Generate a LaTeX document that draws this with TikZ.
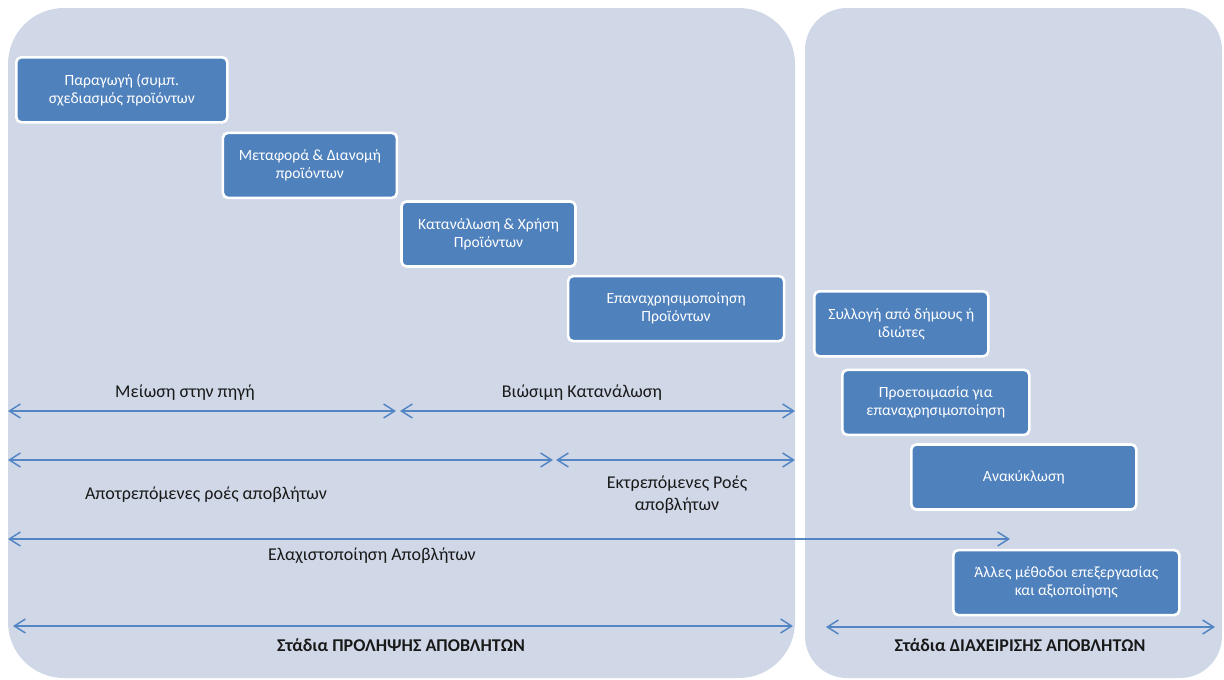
\documentclass[tikz,border=0pt]{standalone}
\usepackage{fontspec}
\setmainfont{Carlito}
\usepackage{xcolor}
\usepackage{tikz}
\usetikzlibrary{arrows.meta,positioning,calc}
\definecolor{panelgray}{RGB}{208,216,232}
\definecolor{boxblue}{RGB}{79,129,189}
\definecolor{spanblue}{RGB}{84,134,196}
\definecolor{darktext}{RGB}{25,25,25}
\newcommand{\boxfont}{\fontsize{15.6}{18}\selectfont}
\newcommand{\lblfont}{\fontsize{18}{22}\selectfont}

\begin{document}
\begin{tikzpicture}[x=1pt, y=-1pt,
    panel/.style={fill=panelgray, draw=none},
    stage/.style={rectangle, draw=white, line width=2.6pt, fill=boxblue, rounded corners=5pt, minimum height=65pt, align=center, text=white, font=\boxfont, inner sep=2pt},
    span/.style={{Straight Barb[length=11pt,width=14pt]}-{Straight Barb[length=11pt,width=14pt]}, line width=1.5pt, spanblue},
    lbl/.style={align=center, text=darktext, font=\lblfont},
    bold/.style={lbl, font=\lblfont\bfseries}]

    \useasboundingbox (0,0) rectangle (1224,680);
    \fill[panel, rounded corners=56pt] (8,8) rectangle (795,678);
    \fill[panel, rounded corners=42pt] (805,8) rectangle (1222,678);

    % prevention stages
    \node[stage, minimum width=211pt, anchor=north west] (prod) at (15,56) {Παραγωγή (συμπ.\\σχεδιασμός προϊόντων};
    \node[stage, minimum width=174pt, below right=8pt and -7pt of prod.south east] (trans) {Μεταφορά \& Διανομή\\προϊόντων};
    \node[stage, minimum width=174pt, below right=1pt and 2pt of trans.south east] (cons) {Κατανάλωση \& Χρήση\\Προϊόντων};
    \node[stage, minimum width=216pt, below right=7pt and -10pt of cons.south east] (reuse) {Επαναχρησιμοποίηση\\Προϊόντων};

    % management stages
    \node[stage, minimum width=174pt, anchor=north west] (coll) at (813,290) {Συλλογή από δήμους ή\\ιδιώτες};
    \node[stage, minimum width=187pt, below right=11pt and 28pt of coll.south west] (prep) {Προετοιμασία για\\επαναχρησιμοποίηση};
    \node[stage, minimum width=225pt, below right=7pt and 69pt of prep.south west] (recyc) {Ανακύκλωση};
    \node[stage, minimum width=226pt, below right=38pt and 42pt of recyc.south west] (other) {Άλλες μέθοδοι επεξεργασίας\\και αξιοποίησης};

    % spans
    \coordinate (src-l) at (8,411);
    \coordinate (src-r) at (396,411);
    \coordinate (sus-l) at (400,411);
    \coordinate (sus-r) at (795,411);
    \coordinate (avd-l) at (8,460);
    \coordinate (avd-r) at (553,460);
    \coordinate (div-l) at (556,460);
    \coordinate (div-r) at (795,460);
    \coordinate (min-l) at (8,539);
    \coordinate (min-r) at (1010,539);
    \coordinate (prv-l) at (13,626);
    \coordinate (prv-r) at (793,626);
    \coordinate (mng-l) at (826,627);
    \coordinate (mng-r) at (1215,627);

    \draw[span] (src-l) -- (src-r);
    \draw[span] (sus-l) -- (sus-r);
    \draw[span] (avd-l) -- (avd-r);
    \draw[span] (div-l) -- (div-r);
    \draw[span] (min-l) -- (min-r);
    \draw[span] (prv-l) -- (prv-r);
    \draw[span] (mng-l) -- (mng-r);

    \node[lbl] (src) at (185,393) {Μείωση στην πηγή};
    \node[lbl] (sus) at (582,393) {Βιώσιμη Κατανάλωση};
    \node[lbl] (avd) at (206,495) {Αποτρεπόμενες ροές αποβλήτων};
    \node[lbl] (div) at (677,495) {Εκτρεπόμενες Ροές\\αποβλήτων};
    \node[lbl] (min) at (372,556) {Ελαχιστοποίηση Αποβλήτων};
    \node[bold] (prv) at (401,645) {Στάδια ΠΡΟΛΗΨΗΣ ΑΠΟΒΛΗΤΩΝ};
    \node[bold] (mng) at (1020,645) {Στάδια ΔΙΑΧΕΙΡΙΣΗΣ ΑΠΟΒΛΗΤΩΝ};
\end{tikzpicture}
\end{document}
